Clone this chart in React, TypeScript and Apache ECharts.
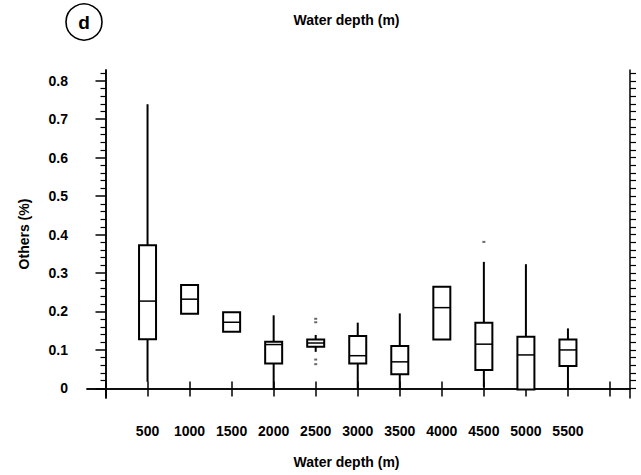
import React, { useEffect, useRef } from "react";
import * as echarts from "echarts";

// ---- data ----
const depths = [500, 1000, 1500, 2000, 2500, 3000, 3500, 4000, 4500, 5000, 5500];
const whiskerLow: (number | null)[] = [0.017, null, null, 0.0, 0.095, -0.003, 0.0, null, 0.003, null, 0.0];
const q1 = [0.128, 0.194, 0.147, 0.065, 0.108, 0.065, 0.037, 0.127, 0.048, -0.003, 0.058];
const medians = [0.227, 0.232, 0.172, 0.114, 0.118, 0.085, 0.069, 0.21, 0.115, 0.087, 0.1];
const q3 = [0.372, 0.269, 0.198, 0.121, 0.127, 0.136, 0.11, 0.264, 0.171, 0.134, 0.127];
const whiskerHigh: (number | null)[] = [0.739, null, null, 0.19, 0.139, 0.171, 0.195, null, 0.329, 0.323, 0.156];
const outlierDepths = [2500, 2500, 2500, 2500, 4500];
const outlierValues = [0.181, 0.172, 0.075, 0.063, 0.381];

const xTickValues = [0, 500, 1000, 1500, 2000, 2500, 3000, 3500, 4000, 4500, 5000, 5500, 6000];
const xLabelValues = [500, 1000, 1500, 2000, 2500, 3000, 3500, 4000, 4500, 5000, 5500];
const yLabelValues = [0, 0.1, 0.2, 0.3, 0.4, 0.5, 0.6, 0.7, 0.8];
const yMinorValues = [
  0.02, 0.04, 0.06, 0.08, 0.12, 0.14, 0.16, 0.18, 0.22, 0.24, 0.26, 0.28,
  0.32, 0.34, 0.36, 0.38, 0.42, 0.44, 0.46, 0.48, 0.52, 0.54, 0.56, 0.58,
  0.62, 0.64, 0.66, 0.68, 0.72, 0.74, 0.76, 0.78, 0.82,
];
const yAllTicks = [...yLabelValues, ...yMinorValues];

const FONT = "'Liberation Sans', Arial, sans-serif";
const X_MIN = -220;
const X_MAX = 6238;
const Y_MIN = -0.025;
const Y_MAX = 0.828;

export default function App() {
  const ref = useRef<HTMLDivElement>(null);

  useEffect(() => {
    if (!ref.current) return;
    const chart = echarts.init(ref.current, null, { renderer: "svg" });

    const lineStyle = { color: "#000", width: 1.5 };
    const textBase = { fontFamily: FONT, fontWeight: "bold" as const, color: "#000" };

    const boxData = depths.map((d, i) => [d, q1[i], medians[i], q3[i]]);

    const option: any = {
      animation: false,
      backgroundColor: "#fff",
      grid: {
        left: 87,
        right: 11,
        top: 70,
        bottom: 77,
        containLabel: false,
        outerBoundsMode: "none",
      },
      xAxis: [
        {
          type: "value",
          position: "bottom",
          min: X_MIN,
          max: X_MAX,
          axisLine: { show: true, lineStyle },
          axisTick: { show: true, inside: false, length: 8, customValues: xTickValues, lineStyle },
          axisLabel: {
            show: true,
            margin: 26,
            customValues: xLabelValues,
            fontSize: 14,
            hideOverlap: false,
            ...textBase,
            formatter: (v: number) => String(v),
          },
          splitLine: { show: false },
          name: "Water depth (m)",
          nameLocation: "middle",
          nameGap: 57,
          nameTextStyle: { fontSize: 14, ...textBase, padding: [0, 24, 0, 0] },
        },
        {
          type: "value",
          position: "top",
          min: X_MIN,
          max: X_MAX,
          axisLine: { show: true, lineStyle },
          axisTick: { show: true, inside: false, length: 7, customValues: xTickValues, lineStyle },
          axisLabel: { show: false },
          splitLine: { show: false },
          name: "Water depth (m)",
          nameLocation: "middle",
          nameGap: 43,
          nameTextStyle: { fontSize: 14, ...textBase, padding: [0, 24, 0, 0] },
        },
      ],
      yAxis: [
        {
          type: "value",
          position: "left",
          min: Y_MIN,
          max: Y_MAX,
          axisLine: { show: true, lineStyle },
          axisTick: { show: true, inside: false, length: 10, customValues: yLabelValues, lineStyle },
          axisLabel: {
            show: true,
            margin: 19,
            customValues: yLabelValues,
            fontSize: 14,
            ...textBase,
            formatter: (v: number) => (Math.abs(v) < 1e-9 ? "0" : v.toFixed(1)),
          },
          splitLine: { show: false },
          name: "Others (%)",
          nameLocation: "middle",
          nameGap: 56,
          nameTextStyle: { fontSize: 14, ...textBase },
        },
        {
          type: "value",
          position: "left",
          min: Y_MIN,
          max: Y_MAX,
          axisLine: { show: true, lineStyle },
          axisTick: { show: true, inside: false, length: 5, customValues: yMinorValues, lineStyle: { color: "#000", width: 1.2 } },
          axisLabel: { show: false },
          splitLine: { show: false },
        },
        {
          type: "value",
          position: "right",
          min: Y_MIN,
          max: Y_MAX,
          axisLine: { show: true, lineStyle },
          axisTick: { show: true, inside: false, length: 6, customValues: yAllTicks, lineStyle: { color: "#000", width: 1.2 } },
          axisLabel: { show: false },
          splitLine: { show: false },
        },
      ],
      graphic: [
        {
          type: "circle",
          shape: { cx: 84, cy: 22, r: 18 },
          style: { fill: "none", stroke: "#000", lineWidth: 1.6 },
        },
        {
          type: "text",
          x: 84,
          y: 22,
          style: {
            text: "d",
            fontFamily: FONT,
            fontWeight: "bold",
            fontSize: 19,
            fill: "#000",
            textAlign: "center",
            textVerticalAlign: "middle",
          },
        },
      ],
      series: [
        {
          type: "custom",
          xAxisIndex: 0,
          yAxisIndex: 0,
          data: boxData,
          encode: { x: 0, y: [1, 2, 3] },
          renderItem: (params: any, api: any) => {
            const i = params.dataIndex;
            const x = api.value(0);
            const half = 8.5;
            const pQ1 = api.coord([x, api.value(1)]);
            const pMed = api.coord([x, api.value(2)]);
            const pQ3 = api.coord([x, api.value(3)]);
            const cx = pQ1[0];
            const children: any[] = [
              {
                type: "rect",
                shape: { x: cx - half, y: pQ3[1], width: half * 2, height: pQ1[1] - pQ3[1] },
                style: { stroke: "#000", lineWidth: 2, fill: "#fff" },
              },
              {
                type: "line",
                shape: { x1: cx - half, y1: pMed[1], x2: cx + half, y2: pMed[1] },
                style: { stroke: "#000", lineWidth: 1.5 },
              },
            ];
            const hi = whiskerHigh[i];
            const lo = whiskerLow[i];
            if (hi !== null) {
              const pHi = api.coord([x, hi]);
              children.push({
                type: "line",
                shape: { x1: cx, y1: pQ3[1], x2: cx, y2: pHi[1] },
                style: { stroke: "#000", lineWidth: 2 },
              });
            }
            if (lo !== null) {
              const pLo = api.coord([x, lo]);
              children.push({
                type: "line",
                shape: { x1: cx, y1: pQ1[1], x2: cx, y2: pLo[1] },
                style: { stroke: "#000", lineWidth: 2 },
              });
            }
            return { type: "group", children };
          },
          z: 3,
        },
        {
          type: "scatter",
          xAxisIndex: 0,
          yAxisIndex: 0,
          data: outlierDepths.map((d, i) => [d, outlierValues[i]]),
          symbol: "rect",
          symbolSize: [3, 2],
          itemStyle: { color: "#444" },
          z: 4,
        },
      ],
    };

    chart.setOption(option);
    return () => chart.dispose();
  }, []);

  return (
    <div
      ref={ref}
      style={{ position: "fixed", left: 0, top: 0, width: 641, height: 475, background: "#fff" }}
    />
  );
}
